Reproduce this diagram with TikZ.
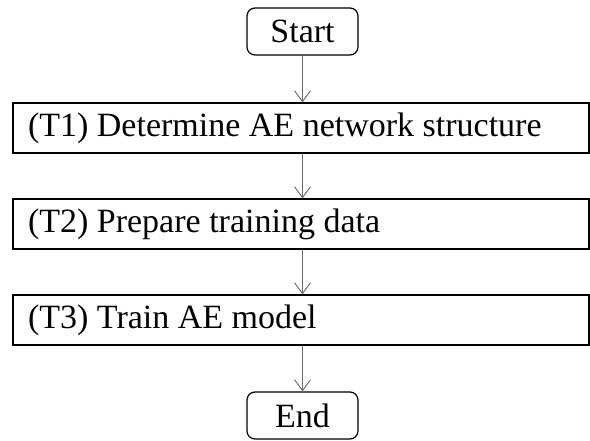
\documentclass[tikz,border=0pt]{standalone}
\usepackage{fontspec}
\setmainfont{Liberation Serif}
\usetikzlibrary{arrows.meta}
\begin{document}
\begin{tikzpicture}[x=1pt,y=-1pt,
  every node/.style={font=\fontsize{34}{40}\selectfont},
  termbox/.style={draw=black, line width=1.2pt, rounded corners=8pt, minimum width=111pt, minimum height=47pt, inner sep=0pt},
  taskbox/.style={draw=black, line width=1.2pt, minimum width=576pt, minimum height=50pt, text width=546pt, inner xsep=15pt, inner ysep=0pt, align=left, execute at begin node={\spaceskip=0.25em\relax}},
  flow/.style={draw=gray!85!black, line width=0.9pt, -{Straight Barb[length=11pt,width=16pt,line width=0.9pt]}}]
\useasboundingbox (0,0) rectangle (590,441);
\node[termbox] (start) at (302.5,31.5) {Start};
\node[taskbox] (t1) at (301,128) {(T1) Determine AE network structure};
\node[taskbox] (t2) at (301,224) {(T2) Prepare training data};
\node[taskbox] (t3) at (301,320) {(T3) Train AE model};
\node[termbox] (end) at (302.5,415.5) {End};
\draw[flow] (start.south) -- (start.south |- t1.north);
\draw[flow] (start.south |- t1.south) -- (start.south |- t2.north);
\draw[flow] (start.south |- t2.south) -- (start.south |- t3.north);
\draw[flow] (start.south |- t3.south) -- (end.north);
\end{tikzpicture}
\end{document}
